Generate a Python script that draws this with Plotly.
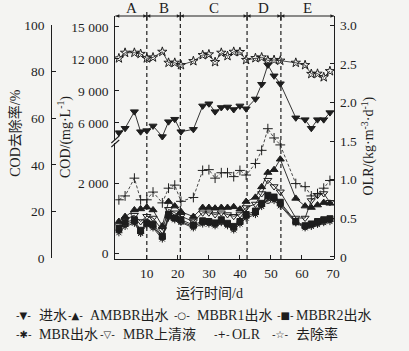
import plotly.graph_objects as go

# ---------------- data ----------------
days = [1, 3, 6, 8, 10, 12, 15, 17, 19, 21, 25, 28, 30, 32, 34, 36, 38, 40, 42,
        45, 47, 49, 51, 53, 58, 61, 63, 65, 67, 69]
influent = [5090, 5500, 7060, 5180, 5280, 5720, 4720, 6120, 6350, 5180, 5400, 7600,
            7800, 7060, 7450, 7500, 7260, 7600, 7330, 8250, 9630, 11440, 10420, 9680,
            6480, 6310, 5500, 6310, 6310, 6970]
ambbr_eff = [900, 1040, 1230, 1260, 1310, 1230, 770, 1470, 1340, 1180, 1040, 1300, 1300,
             1280, 1300, 1300, 1320, 1250, 1470, 1590, 1890, 2300, 2380, 2680, 1560, 1340,
             1300, 1370, 1440, 1420]
mbbr1_eff = [650, 820, 900, 600, 880, 760, 450, 1050, 1000, 900, 760, 880, 870, 820, 900,
             820, 700, 880, 1050, 1150, 1380, 1500, 1550, 1400, 880, 750, 800, 850, 900, 950]
mbbr2_eff = [700, 880, 950, 650, 850, 820, 480, 1100, 1000, 950, 800, 920, 900, 860, 950,
             850, 760, 900, 1100, 1200, 1420, 1650, 1600, 1450, 900, 780, 830, 900, 950, 980]
mbr_eff = [580, 760, 850, 560, 800, 720, 400, 1000, 950, 880, 720, 830, 830, 780, 870, 780,
           660, 830, 1000, 1100, 1330, 1550, 1500, 1350, 860, 720, 760, 820, 870, 900]
mbr_sup = [780, 950, 1080, 900, 1050, 1000, 650, 1250, 1150, 1050, 900, 1150, 1150, 1100,
           1150, 1100, 1050, 1100, 1300, 1400, 1700, 2080, 1900, 1750, 1000, 1000, 1500,
           1650, 1700, 1450]
olr = [0.74, 0.79, 1.02, 0.74, 0.74, 0.84, 0.70, 0.89, 0.93, 0.72, 0.77, 1.12, 1.13, 1.02,
       1.09, 1.09, 1.04, 1.12, 1.06, 1.21, 1.38, 1.66, 1.54, 1.45, 0.95, 0.91, 0.79, 0.82,
       0.89, 0.99]
removal = [85.7, 88.1, 88.1, 87.6, 85.7, 86.1, 88.5, 83.8, 83.8, 82.8, 84.5, 87.1, 87.4,
           84.1, 88.1, 86.7, 88.5, 88.4, 85.0, 85.8, 86.1, 84.8, 85.0, 84.7, 83.8, 82.8,
           79.0, 79.1, 77.6, 80.2]

period_bounds = [0, 10, 20.8, 42.3, 53.2, 70.3]
period_labels = ["A", "B", "C", "D", "E"]

x_ticks = [10, 20, 30, 40, 50, 60, 70]
cod_low_ticks = [0, 2000]
cod_low_text = ["0", "2 000"]
cod_high_ticks = [6000, 9000, 12000, 15000]
cod_high_text = ["6 000", "9 000", "12 000", "15 000"]
olr_ticks = [0, 0.5, 1.0, 1.5, 2.0, 2.5, 3.0]
olr_text = ["0", "0.5", "1.0", "1.5", "2.0", "2.5", "3.0"]
rate_ticks = [0, 20, 40, 60, 80, 100]

names = ["进水", "AMBBR出水", "MBBR1出水", "MBBR2出水", "MBR出水", "MBR上清液", "OLR", "去除率"]
legend_glyphs = ["▼", "▲", "○", "■", "✱", "▽", "+", "☆"]

# ---------------- geometry helpers ----------------
W, H = 409, 351
TOP, BOT = 16, 259
OLR_RANGE = [-0.026, 3.118]
def px(x):
    return x / W
def py(y):
    return (BOT - y) / (BOT - TOP)

INK = "#1e1e1e"
BG = "#f4f4f2"
SERIF = "Liberation Serif, Noto Sans CJK SC, serif"

fig = go.Figure()

def add(y, name, yaxis, symbol, size, fill=True, dash="solid", lw=0.9):
    fig.add_trace(go.Scatter(
        x=days, y=y, name=name, yaxis=yaxis, mode="lines+markers",
        line=dict(color=INK, width=lw, dash=dash),
        marker=dict(symbol=symbol, size=size, color=INK if fill else BG,
                    line=dict(color=INK, width=1)),
        showlegend=False))

add(influent, names[0], "y2", "triangle-down", 7)
add(ambbr_eff, names[1], "y", "triangle-up", 7)
add(mbbr1_eff, names[2], "y", "circle-open", 6)
add(mbbr2_eff, names[3], "y", "square", 6)
add(mbr_eff, names[4], "y", "asterisk-open", 6)
add(mbr_sup, names[5], "y", "triangle-down-open", 7)
add(olr, names[6], "y3", "cross-thin-open", 7, dash="3px,2px", lw=0.8)
add(removal, names[7], "y4", "star-open", 7, lw=0.8)

# period arrowheads along the top border
arrow_x, arrow_sym = [], []
for i in range(len(period_labels)):
    a, b = period_bounds[i], period_bounds[i + 1]
    arrow_x += [a, b]
    arrow_sym += ["arrow-left", "arrow-right"]
fig.add_trace(go.Scatter(
    x=arrow_x, y=[OLR_RANGE[1]] * len(arrow_x), yaxis="y3", mode="markers",
    marker=dict(symbol=arrow_sym, size=3.5, color=INK), cliponaxis=False,
    showlegend=False, hoverinfo="skip"))

axis_common = dict(showgrid=False, zeroline=False, showline=True, linecolor=INK,
                   linewidth=1.3, ticks="inside", ticklen=4, tickcolor=INK,
                   tickfont=dict(family=SERIF, size=13.5, color=INK))

fig.update_layout(
    width=W, height=H,
    margin=dict(l=0, r=0, t=TOP, b=H - BOT),
    paper_bgcolor=BG, plot_bgcolor="rgba(0,0,0,0)",
    font=dict(family=SERIF, color=INK),
    xaxis=dict(domain=[px(117), px(339)], range=[-0.16, 70.32], tickvals=x_ticks,
               anchor="y", ticklabelstandoff=2, **axis_common),
    yaxis=dict(domain=[0, 0.478], range=[-171, 3148], tickvals=cod_low_ticks,
               ticktext=cod_low_text, anchor="x", ticklabelstandoff=3, **axis_common),
    yaxis2=dict(domain=[0.49, 1], range=[4406, 16031], tickvals=cod_high_ticks,
                ticktext=cod_high_text, anchor="x", ticklabelstandoff=3, **axis_common),
    yaxis3=dict(domain=[0, 1], range=OLR_RANGE, tickvals=olr_ticks,
                ticktext=olr_text, anchor="x", side="right", ticklabelstandoff=2,
                **axis_common),
    yaxis4=dict(domain=[py(258), py(25)], range=[0, 100], tickvals=rate_ticks,
                anchor="free", position=px(52), side="left", ticklabelstandoff=4,
                **axis_common),
)

shapes = []
for b in period_bounds[1:-1]:
    shapes.append(dict(type="line", xref="x", yref="paper", x0=b, x1=b, y0=0, y1=1,
                       line=dict(color=INK, width=1.2, dash="4px,3px")))
# top border carrying the period arrows
shapes.append(dict(type="line", xref="paper", yref="paper", x0=px(117), x1=px(339),
                   y0=1, y1=1, line=dict(color=INK, width=1.2)))
for b in period_bounds[1:-1]:
    shapes.append(dict(type="line", xref="x", yref="paper", x0=b, x1=b, y0=py(20), y1=py(12),
                       line=dict(color=INK, width=1.2)))
# axis break marks
for dy in (0, 4):
    shapes.append(dict(type="line", xref="paper", yref="paper",
                       x0=px(113), x1=px(121), y0=py(143 + dy), y1=py(136 + dy),
                       line=dict(color=INK, width=1.1)))
fig.update_layout(shapes=shapes)

ann = []
for i, lab in enumerate(period_labels):
    a, b = period_bounds[i], period_bounds[i + 1]
    ann.append(dict(x=(a + b) / 2, y=py(8), xref="x", yref="paper", text=lab,
                    xanchor="center", yanchor="middle",
                    showarrow=False, font=dict(family=SERIF, size=15, color=INK)))

title_font = dict(family=SERIF, size=14, color=INK)
ann.append(dict(x=px(15), y=py(133), xref="paper", yref="paper", text="COD去除率/%",
                textangle=-90, showarrow=False, xanchor="center", yanchor="middle",
                font=title_font))
ann.append(dict(x=px(65), y=py(137), xref="paper", yref="paper",
                text="COD/(mg·L<sup>-1</sup>)", textangle=-90, showarrow=False,
                xanchor="center", yanchor="middle", font=title_font))
ann.append(dict(x=px(373), y=py(146), xref="paper", yref="paper",
                text="OLR/(kg·m<sup>-3</sup>·d<sup>-1</sup>)", textangle=-90,
                showarrow=False, xanchor="center", yanchor="middle", font=title_font))
ann.append(dict(x=px(213), y=py(293), xref="paper", yref="paper", text="运行时间/d",
                showarrow=False, xanchor="center", yanchor="middle", font=title_font))

# legend built from the series names
glyph_x = [24, 76.5, 184.5, 289.5, 24, 109, 225.5, 285]
text_x = [38, 89, 198, 298, 38, 123, 233, 298]
row_y = [315, 315, 315, 315, 334, 334, 334, 334]
for g, n, gx, tx, ry in zip(legend_glyphs, names, glyph_x, text_x, row_y):
    ann.append(dict(x=px(gx), y=py(ry), xref="paper", yref="paper",
                    text=f"-{g}-", showarrow=False, xanchor="center", yanchor="middle",
                    font=dict(family="DejaVu Sans", size=10, color=INK)))
    ann.append(dict(x=px(tx), y=py(ry), xref="paper", yref="paper", text=n,
                    showarrow=False, xanchor="left", yanchor="middle",
                    font=dict(family=SERIF, size=14, color=INK)))
fig.update_layout(annotations=ann)

fig.write_html("out.html")
